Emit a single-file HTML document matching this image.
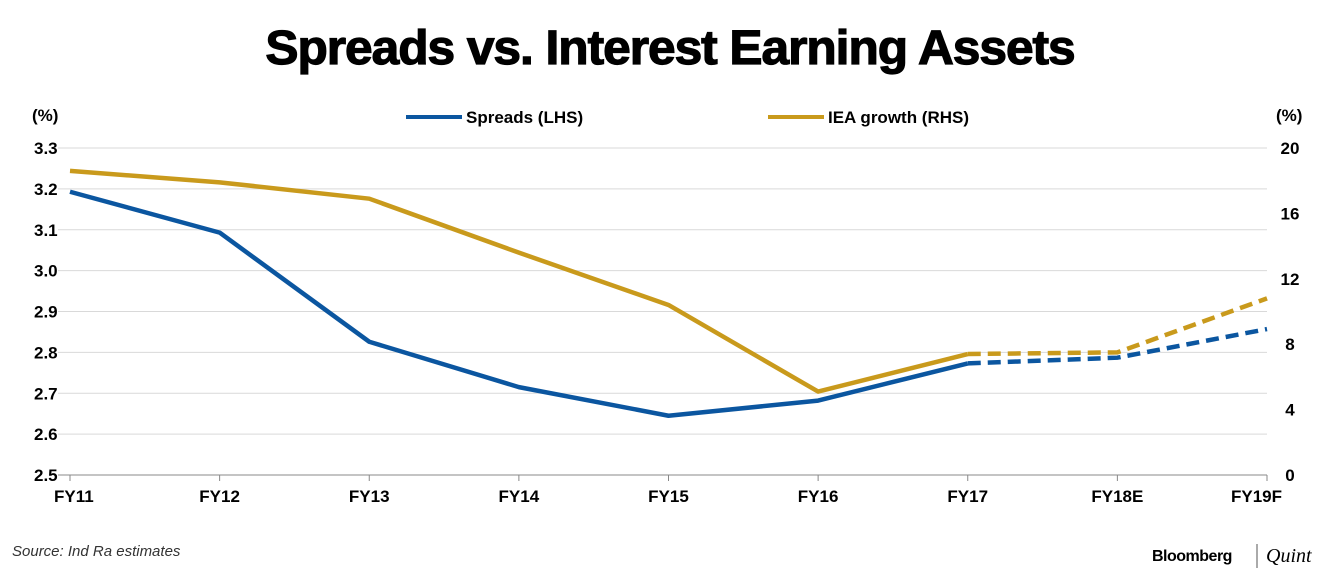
<!DOCTYPE html>
<html><head><meta charset="utf-8"><style>
body{margin:0;background:#fff;width:1340px;height:580px;overflow:hidden;font-family:"Liberation Sans",sans-serif}
</style></head><body>
<svg width="1340" height="580" xmlns="http://www.w3.org/2000/svg">
<text x="670" y="64" text-anchor="middle" font-size="48" font-weight="bold" stroke="#000" stroke-width="1.2" transform="translate(670,0) scale(1.035,1) translate(-670,0)" letter-spacing="-1">Spreads vs. Interest Earning Assets</text>
<g id="grid"></g>
<g id="ticks"></g>
<text x="32" y="121" font-size="17" font-weight="bold">(%)</text>
<text x="1276" y="121" font-size="17" font-weight="bold">(%)</text>
<g><line x1="406" y1="117" x2="462" y2="117" stroke="#0b56a0" stroke-width="4"/><text x="466" y="123" font-size="17" font-weight="bold">Spreads (LHS)</text></g>
<g><line x1="768" y1="117" x2="824" y2="117" stroke="#c99a1c" stroke-width="4"/><text x="828" y="123" font-size="17" font-weight="bold">IEA growth (RHS)</text></g>
<g id="series"></g>
<text x="12" y="556" font-size="15" font-style="italic" fill="#333">Source: Ind Ra estimates</text>
<text x="1152" y="561" font-size="16" font-weight="bold" letter-spacing="-0.5">Bloomberg</text>
<line x1="1257" y1="544" x2="1257" y2="568" stroke="#555" stroke-width="1"/>
<text x="1266" y="562" font-size="20" font-style="italic" font-family="Liberation Serif,serif">Quint</text>
</svg>
<script>
const categories=["FY11","FY12","FY13","FY14","FY15","FY16","FY17","FY18E","FY19F"];
const spreads=[3.193,3.093,2.826,2.715,2.645,2.682,2.773,2.787,2.857];
const iea=[18.6,17.9,16.9,13.6,10.4,5.1,7.4,7.5,10.8];
const leftTicks=["2.5","2.6","2.7","2.8","2.9","3.0","3.1","3.2","3.3"];
const rightTicks=["0","4","8","12","16","20"];
const forecastStart=6;
const NS="http://www.w3.org/2000/svg";
const x0=70,x1=1267,yB=475,yT=148;
const xs=i=>x0+i*(x1-x0)/(categories.length-1);
const yL=v=>yB-(v-2.5)/0.8*(yB-yT);
const yR=v=>yB-v/20*(yB-yT);
function mk(t,a,p){const e=document.createElementNS(NS,t);for(const k in a)e.setAttribute(k,a[k]);p.appendChild(e);return e;}
const grid=document.getElementById('grid'),ticks=document.getElementById('ticks'),ser=document.getElementById('series');
leftTicks.forEach(t=>{const y=yL(+t);
 const l=mk('line',{x1:58,x2:x1,y1:y,y2:y,stroke:y===yB?'#888':'#d9d9d9','stroke-width':1},grid);
 
 
 const tx=mk('text',{x:34,y:y+6,'font-size':17,'font-weight':'bold'},ticks);tx.textContent=t;
 
 });
rightTicks.forEach(t=>{const y=yR(+t);
 const tx=mk('text',{x:1290,y:y+6,'font-size':17,'font-weight':'bold','text-anchor':'middle'},ticks);tx.textContent=t;
 
 });
categories.forEach((c,i)=>{const x=xs(i);
 mk('line',{x1:x,x2:x,y1:yB,y2:yB+6,stroke:'#888'},grid);
 const a=i===0?'start':(i===categories.length-1?'end':'middle');
 const tx=mk('text',{x:i===0?54:(i===categories.length-1?1282:x),y:502,'font-size':17,'font-weight':'bold','text-anchor':a},ticks);tx.textContent=c;
 
 });
function draw(vals,yf,col,name){
 const pts=vals.map((v,i)=>xs(i)+','+yf(v));
 const s=mk('polyline',{points:pts.slice(0,forecastStart+1).join(' '),fill:'none',stroke:col,'stroke-width':4.5,'stroke-linejoin':'round'},ser);
 
 
 const d=mk('polyline',{points:pts.slice(forecastStart).join(' '),fill:'none',stroke:col,'stroke-width':4.5,'stroke-dasharray':'13 7'},ser);
 
 }
draw(iea,yR,'#c99a1c','iea-growth');
draw(spreads,yL,'#0b56a0','spreads');
</script>
</body></html>
